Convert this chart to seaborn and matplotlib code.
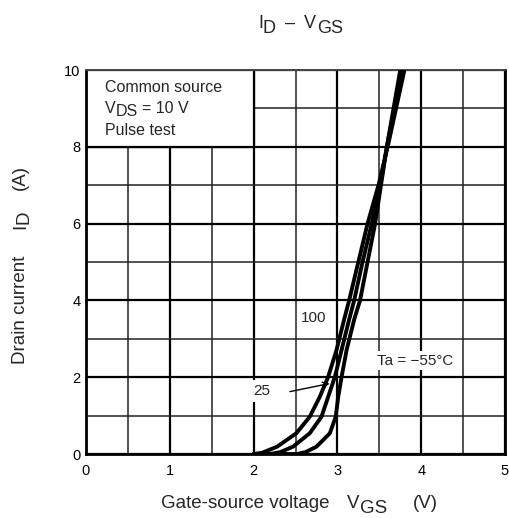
import matplotlib
matplotlib.use("Agg")
import matplotlib.pyplot as plt
import matplotlib.patches as mpatches
from matplotlib.transforms import IdentityTransform
import seaborn as sns
import pandas as pd

# ID-VGS curves
vgs_100 = [2.00, 2.10, 2.28, 2.51, 2.67, 2.79, 2.89, 2.99, 3.08, 3.14, 3.25, 3.36, 3.49, 3.60, 3.70, 3.80]
id_100 = [0.0, 0.03, 0.19, 0.54, 0.97, 1.49, 2.01, 2.71, 3.5, 4.0, 5.0, 6.0, 7.0, 8.0, 9.0, 10.0]

vgs_25 = [2.00, 2.20, 2.32, 2.47, 2.67, 2.81, 2.89, 2.97, 3.05, 3.14, 3.20, 3.30, 3.41, 3.51, 3.59, 3.68, 3.77]
id_25 = [0.0, 0.0, 0.05, 0.19, 0.54, 0.97, 1.49, 2.01, 2.71, 3.5, 4.0, 5.0, 6.0, 7.0, 8.0, 9.0, 10.0]

vgs_m55 = [2.00, 2.52, 2.62, 2.75, 2.91, 2.98, 3.01, 3.05, 3.11, 3.20, 3.27, 3.36, 3.45, 3.52, 3.59, 3.67, 3.75]
id_m55 = [0.0, 0.0, 0.05, 0.19, 0.54, 0.97, 1.49, 2.01, 2.71, 3.5, 4.0, 5.0, 6.0, 7.0, 8.0, 9.0, 10.0]

x_ticks = [0, 1, 2, 3, 4, 5]
y_ticks = [0, 2, 4, 6, 8, 10]

frames = []
for name, xs, ys in [("100", vgs_100, id_100), ("25", vgs_25, id_25), ("-55", vgs_m55, id_m55)]:
    frames.append(pd.DataFrame({"VGS": xs, "ID": ys, "Ta": name}))
df = pd.concat(frames, ignore_index=True)

sns.set_style("white")
plt.rcParams["font.family"] = ["Liberation Sans", "DejaVu Sans"]

W, H = 509, 518
fig = plt.figure(figsize=(W / 100, H / 100), dpi=100)
ax = fig.add_axes([86 / W, 64 / H, 419 / W, 384 / H])


def put(s, x, y_top, size, rot=0):
    # text placed by pixel position of its baseline start (y from top)
    fig.text(x, H - y_top, s, transform=IdentityTransform(), fontsize=size,
             ha="left", va="baseline", rotation=rot, rotation_mode="anchor", zorder=5)


ax.set_xlim(0, 5)
ax.set_ylim(0, 10)
ax.set_xticks(x_ticks)
ax.set_yticks(y_ticks)
ax.set_xticks([0.5 + i for i in range(5)], minor=True)
ax.set_yticks([1 + 2 * i for i in range(5)], minor=True)
ax.tick_params(which="both", length=0, labelsize=10.5, colors="black")
ax.tick_params(axis="x", pad=7)
ax.tick_params(axis="y", pad=4)
ax.set_axisbelow(True)
ax.grid(which="major", color="black", linewidth=1.6)
ax.grid(which="minor", color="#222222", linewidth=1.1)
for s in ax.spines.values():
    s.set_color("black")
    s.set_linewidth(2.0)
ax.spines["top"].set_color("#444444")
ax.spines["top"].set_linewidth(1.4)

# white box over the grid in the upper left corner
ax.add_patch(mpatches.Rectangle((0, 8), 2, 2, facecolor="white", edgecolor="black",
                                linewidth=1.6, zorder=1))

sns.lineplot(data=df, x="VGS", y="ID", units="Ta", estimator=None, sort=False,
             color="black", linewidth=2.8, ax=ax, zorder=3, legend=False)
ax.set_xlabel("")
ax.set_ylabel("")

ax.text(2.72, 3.53, "100", fontsize=11, ha="center", va="center", zorder=4)
ax.text(3.93, 2.43, "Ta = \u221255\u00b0C", fontsize=11, ha="center", va="center", zorder=4,
        bbox=dict(facecolor="white", edgecolor="none", pad=2))
ax.text(2.10, 1.65, "25", fontsize=11, ha="center", va="center", zorder=4,
        bbox=dict(facecolor="white", edgecolor="none", pad=3))
ax.annotate("", xy=(2.94, 1.85), xytext=(2.40, 1.61), zorder=4,
            arrowprops=dict(arrowstyle="->", color="black", lw=1.0))

# box text
put("Common source", 105, 92.3, 11.5)
put("V", 105, 113.3, 11.5)
put("DS", 116, 116.5, 11.5)
put("= 10 V", 142, 113.3, 11.5)
put("Pulse test", 105, 135, 11.5)

# title
put("I", 258, 28.3, 13)
put("D", 263, 32.7, 13)
put("\u2013", 285, 28.3, 13)
put("V", 304, 28.3, 13)
put("GS", 317, 32.7, 13)

# x label
put("Gate-source voltage", 161, 508, 13.5)
put("V", 347, 508, 13.5)
put("GS", 360, 513, 13.5)
put("(V)", 413, 508, 13.5)

# y label
put("Drain current", 25, 363.5, 13.5, rot=90)
put("I", 25, 229, 13.5, rot=90)
put("D", 29, 223.5, 13.5, rot=90)
put("(A)", 25, 189.5, 13.5, rot=90)

fig.savefig("out.png", dpi=100)
